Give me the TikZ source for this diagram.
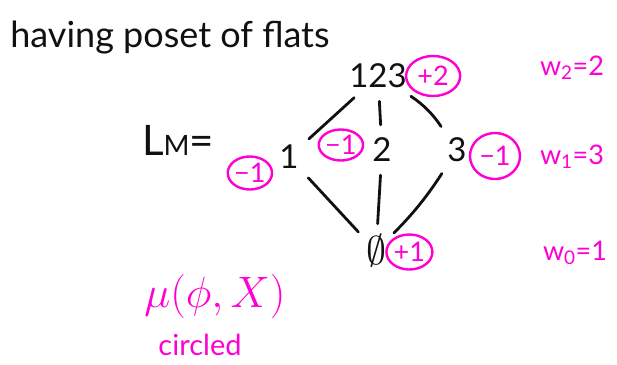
\documentclass[tikz,border=0pt]{standalone}
\usepackage{fix-cm}
\usepackage{fontspec}
\setmainfont{Lato}
\usetikzlibrary{positioning, shapes.geometric}
\definecolor{clrink}{HTML}{111111}
\definecolor{clrpen}{HTML}{FF00D4}

\begin{document}
\begin{tikzpicture}[
    x=1pt, y=-1pt,
    every node/.style={font=\fontsize{26}{30}\selectfont, text=clrink},
    flat/.style={inner sep=2pt, font=\fontsize{33}{38}\selectfont},
    edge/.style={draw=clrink, line width=2.8pt, line cap=round, shorten >=11pt, shorten <=11pt},
    mobius/.style={ellipse, draw=clrpen, line width=2.4pt, text=clrpen, inner sep=0pt,
                   minimum width=44pt, minimum height=36pt, font=\fontsize{27}{30}\selectfont},
    note/.style={text=clrpen, font=\fontsize{27}{32}\selectfont},
]
\useasboundingbox[fill=white] (0,0) rectangle (617,364);
% heading
\node[font=\fontsize{36}{42}\selectfont] (title) at (170,38) {having poset of flats};
\node[font=\fontsize{42}{48}\selectfont] (lm) at (178,140) {L{\fontsize{28}{32}\selectfont M}=};
% lattice of flats
\node[flat] (n123) at (378,76) {123};
\node[flat] (n1) at (289,157) {1};
\node[flat] (n2) at (382,150) {2};
\node[flat] (n3) at (457,150) {3};
\node[flat, font=\fontsize{40}{44}\selectfont, inner sep=0pt] (n0) at (376,251) {$\emptyset$};
\draw[edge] (n123) -- (n1);
\draw[edge] (n123) -- (n2);
\draw[edge] (n123) to[bend left=12] (n3);
\draw[edge] (n1) -- (n0);
\draw[edge] (n2) -- (n0);
\draw[edge] (n3) to[bend left=6] (n0);
% circled moebius values
\node[mobius, minimum width=54pt, minimum height=40pt, right=-4pt of n123] (c123) {+2};
\node[mobius, minimum width=38pt, minimum height=33pt, left=4pt of n1, yshift=-16pt] (c1) {−1};
\node[mobius, minimum width=42pt, minimum height=31pt, left=6pt of n2, yshift=5pt] (c2) {−1};
\node[mobius, minimum width=50pt, minimum height=46pt, right=0pt of n3, yshift=-6pt] (c3) {−1};
\node[mobius, minimum width=46pt, minimum height=35pt, right=-1pt of n0, yshift=-1pt] (c0) {+1};
% whitney numbers
\node[note] (w2) at (572,68) {w\textsubscript{2}=2};
\node[note] (w1) at (572,157) {w\textsubscript{1}=3};
\node[note] (w0) at (575,253) {w\textsubscript{0}=1};
\node[note, font=\fontsize{44}{52}\selectfont] (mu) at (215,296) {$\mu(\phi,X)$};
\node[note, font=\fontsize{29}{34}\selectfont] (circ) at (200,345) {circled};
\end{tikzpicture}
\end{document}
